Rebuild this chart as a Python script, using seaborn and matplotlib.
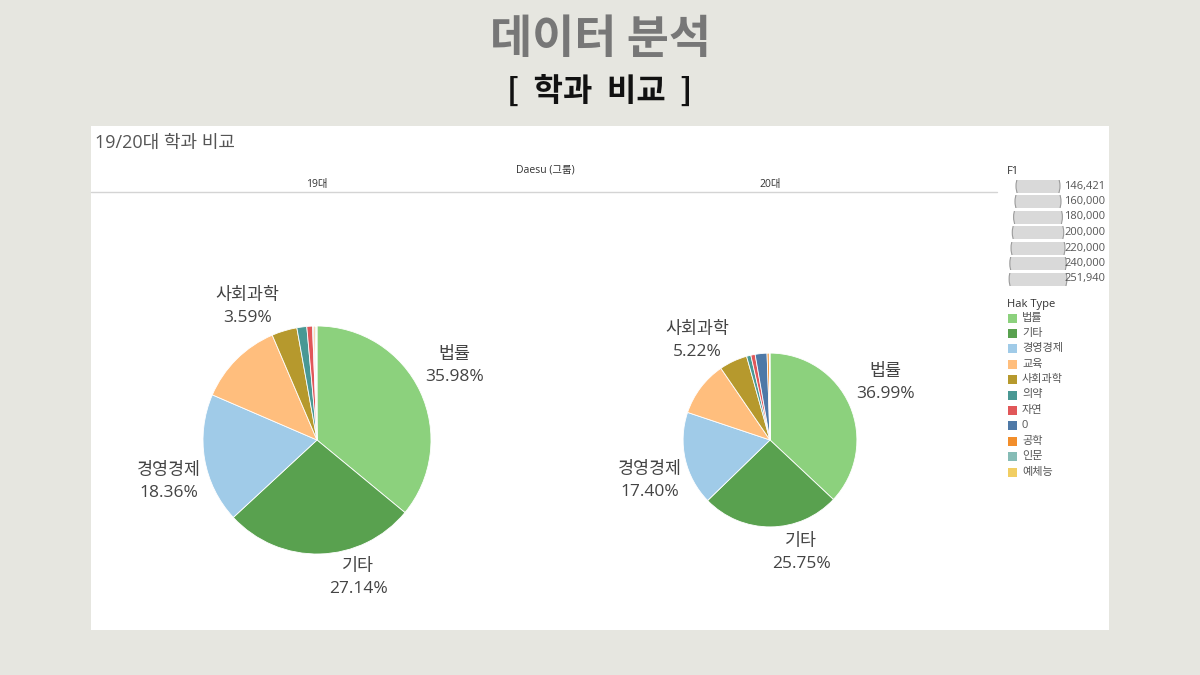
import matplotlib.pyplot as plt
import matplotlib.patches as mpatches
import numpy as np
import seaborn as sns

# data
hak_types = ["법률", "기타", "경영경제", "교육", "사회과학", "의약", "자연", "0", "공학", "인문", "예체능"]
hak_colors = ["#8CD17D", "#59A14F", "#A0CBE8", "#FFBE7D", "#B6992D", "#499894",
              "#E15759", "#4E79A7", "#F28E2B", "#86BCB6", "#F1CE63"]
groups = ["19대", "20대"]
totals = [251940, 146421]
pct_19 = [35.98, 27.14, 18.36, 12.10, 3.59, 1.40, 0.80, 0.15, 0.20, 0.15, 0.13]
pct_20 = [36.99, 25.75, 17.40, 10.30, 5.22, 0.80, 0.80, 2.20, 0.40, 0.07, 0.07]
labeled = ["법률", "기타", "경영경제", "사회과학"]
size_ticks = [146421, 160000, 180000, 200000, 220000, 240000, 251940]

# label placement tweaks (angle shift in degrees, extra gap in px)
label_nudge = {"법률": (3, 42), "기타": (15, 30), "경영경제": (6, 40), "사회과학": (11, 36)}

sns.set_style("white")
plt.rcParams['font.family'] = ['Open Sans', 'Noto Sans CJK KR', 'DejaVu Sans']
palette = sns.color_palette(hak_colors)
kr = ['Noto Sans CJK KR', 'DejaVu Sans']

W, H = 1200, 675
def Y(y):
    return H - y

fig = plt.figure(figsize=(12, 6.75), dpi=100)
fig.patch.set_facecolor("#e6e6e0")
ax = fig.add_axes([0, 0, 1, 1])

# white panel
ax.add_patch(mpatches.Rectangle((91, Y(630)), 1018, 504, fc="white", ec="none", zorder=0))

# pies, area proportional to total
centers_x = [317, 770]
cy = Y(440)
rmax = 114
for grp, pcts, total, cx in zip(groups, [pct_19, pct_20], totals, centers_x):
    r = rmax * np.sqrt(total / max(totals))
    ax.pie(pcts, colors=palette, startangle=90, counterclock=False, radius=r,
           center=(cx, cy), frame=True,
           wedgeprops=dict(edgecolor="white", linewidth=0.6))
    cum = np.cumsum([0] + pcts[:-1])
    for name, p, c in zip(hak_types, pcts, cum):
        if name not in labeled:
            continue
        shift, gap = label_nudge[name]
        th = np.deg2rad(90 - 3.6 * (c + p / 2) + shift)
        d = r + gap
        ax.text(cx + d * np.cos(th), cy + d * np.sin(th), f"{name}\n{p:.2f}%",
                ha="center", va="center", fontsize=12.5, color="#444444",
                linespacing=1.5)
    ax.text(cx, Y(185), grp, ha="center", va="center", fontsize=7.5, color="#333333")

# headers
ax.text(95, Y(143), "19/20대 학과 비교", ha="left", va="center", fontsize=13, color="#555555")
ax.text(545, Y(170), "Daesu (그룹)", ha="center", va="center", fontsize=7.5, color="#333333")
ax.plot([91, 997], [Y(192), Y(192)], color="#d4d4d4", lw=1)

# size legend
ax.text(1007, Y(172), "F1", ha="left", va="center", fontsize=8, color="#333333")
for i, v in enumerate(size_ticks):
    ry = Y(186 + i * 15.5)
    band = mpatches.Rectangle((1000, ry - 6.5), 100, 13, transform=ax.transData)
    rad = 22 * np.sqrt(v / min(size_ticks))
    circ = mpatches.Circle((1038, ry), rad, fc="#d9d9d9", ec="#9a9a9a", lw=0.8)
    ax.add_patch(circ)
    circ.set_clip_path(band)
    ax.text(1064, ry, f"{v:,}", ha="left", va="center", fontsize=8, color="#555555")

# color legend
ax.text(1007, Y(304), "Hak Type", ha="left", va="center", fontsize=8, color="#333333")
for i, (name, col) in enumerate(zip(hak_types, palette)):
    ry = Y(318 + i * 15.4)
    ax.add_patch(mpatches.Rectangle((1008, ry - 4.5), 9, 9, fc=col, ec="none"))
    ax.text(1022, ry, name, ha="left", va="center", fontsize=8, color="#555555")

# page titles
ax.text(600, Y(40), "데이터 분석", ha="center", va="center", fontsize=33,
        fontweight="heavy", color="#777777", family=kr)
ax.text(600, Y(92), "[  학과  비교  ]", ha="center", va="center", fontsize=23,
        fontweight="heavy", color="#111111", family=kr)

ax.set_xlim(0, W)
ax.set_ylim(0, H)
ax.set_aspect("equal")
ax.axis("off")

plt.savefig("out.png", dpi=100, facecolor=fig.get_facecolor())
